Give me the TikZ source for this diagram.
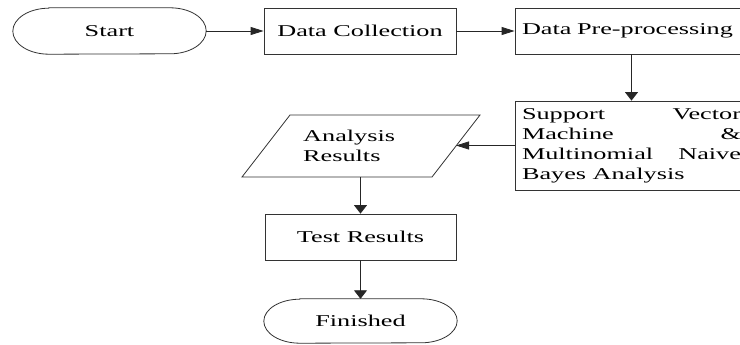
\documentclass[tikz,border=0pt]{standalone}
\usepackage{fontspec}
\setmainfont[FakeStretch=1.59]{Liberation Serif}
\usetikzlibrary{arrows.meta}
\hbadness=10000

% stadium outline around a (borderless) terminal node
\newcommand\stadiumpath[3]{%
  \draw[outline] ([xshift=#2]#1.north west) -- ([xshift=-#2]#1.north east)
    arc[start angle=90, end angle=-90, x radius=#2, y radius=#3]
    -- ([xshift=#2]#1.south west)
    arc[start angle=270, end angle=90, x radius=#2, y radius=#3] -- cycle;}

\begin{document}
\begin{tikzpicture}[x=1pt, y=-1pt,
  every node/.style={font=\fontsize{16.5}{20}\selectfont},
  outline/.style={draw=black!80, line width=0.8pt},
  box/.style={outline, minimum height=46pt, inner sep=0pt},
  term/.style={minimum height=46pt, inner sep=0pt},
  hflow/.style={draw=black!85, line width=0.8pt, -{Triangle[length=13pt,width=8pt]}},
  vflow/.style={draw=black!85, line width=0.8pt, -{Triangle[length=8.5pt,width=13pt]}}]
\useasboundingbox (0,0) rectangle (740,345);
\clip (0,0) rectangle (740,345);

% top row
\node[term, minimum width=193pt] (start) at (109.5,31) {Start};
\stadiumpath{start}{36pt}{23pt}
\node[box, minimum width=192pt] (dc) at (360,31) {Data Collection};
\node[box, text width=219pt, inner xsep=7pt, align=left] (dpp) at (631.5,31) {Data Pre-processing};

% classification step
\node[box, text width=219pt, inner xsep=7pt, minimum height=89pt, align=justify] (svm) at (631.5,145.5)
  {Support Vector\linebreak Machine \&\linebreak Multinomial Naive\linebreak Bayes Analysis};

% output parallelogram
\draw[outline] (290,115) -- (480,115) -- (432,177) -- (242,177) -- cycle;
\coordinate (arE) at (456,145.5);
\coordinate (arS) at (360.5,177);
\node[anchor=west, inner sep=0pt, align=left] (ar) at (303,146) {Analysis\\Results};

% bottom column
\node[box, minimum width=191pt] (tr) at (360.5,237) {Test Results};
\node[term, minimum width=193pt, minimum height=44pt] (fin) at (360.5,321) {Finished};
\stadiumpath{fin}{36pt}{22pt}

% connectors
\draw[hflow] (start) -- (dc);
\draw[hflow] (dc) -- (dpp);
\draw[vflow] (dpp) -- (svm);
\draw[hflow] (svm) -- (arE);
\draw[vflow] (arS) -- (tr);
\draw[vflow] (tr) -- (fin);
\end{tikzpicture}
\end{document}
